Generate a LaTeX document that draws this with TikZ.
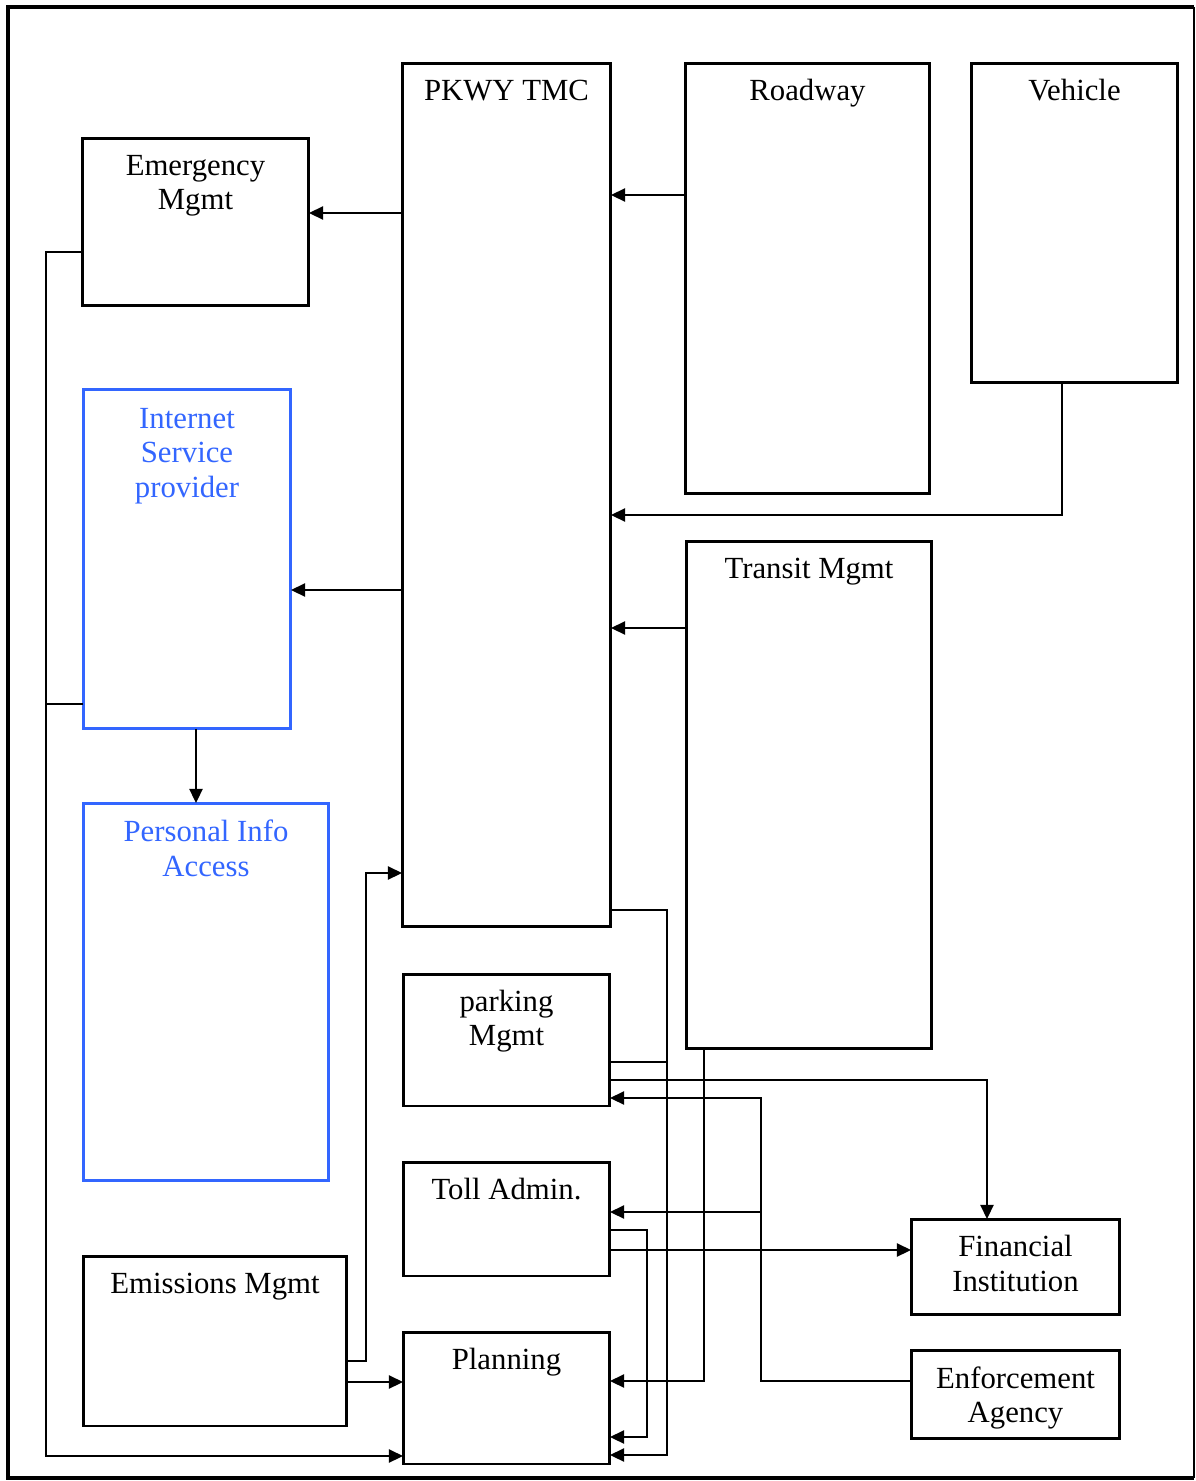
\documentclass[tikz,border=0pt]{standalone}
\usepackage{fontspec}
\setmainfont{Liberation Serif}
\usetikzlibrary{arrows.meta}
\definecolor{webblue}{RGB}{51,102,255}
\begin{document}
\begin{tikzpicture}[x=0.02cm,y=-0.02cm,
  box/.style={draw,line width=1.7pt,inner sep=0pt,outer sep=0pt,fill=white},
  bluebox/.style={box,draw=webblue},
  lbl/.style={anchor=north,inner sep=0pt,align=center,
    font=\fontsize{17.5}{19.8}\selectfont,execute at begin node=\strut},
  bluelbl/.style={lbl,text=webblue},
  arr/.style={line width=0.85pt,-{Triangle[length=8pt,width=7.5pt]}},
  wire/.style={line width=0.85pt}]
\useasboundingbox (0,0) rectangle (1196,1481);
% outer frame
\draw[line width=2.3pt] (1194,7) -- (8,7) -- (8,1478) -- (1194,1478);
\draw[line width=0.9pt] (1194,7) -- (1194,1478);

% boxes
\node[box,minimum width=4.54cm,minimum height=3.36cm]  (em)      at (195.5,222) {};
\node[box,minimum width=4.18cm,minimum height=17.28cm] (tmc)     at (506.5,495) {};
\node[box,minimum width=4.90cm,minimum height=8.62cm]  (road)    at (807.5,278.5) {};
\node[box,minimum width=4.14cm,minimum height=6.40cm]  (veh)     at (1074.5,223) {};
\node[bluebox,minimum width=4.16cm,minimum height=6.80cm] (isp)  at (187,559) {};
\node[bluebox,minimum width=4.92cm,minimum height=7.56cm] (pia)  at (206,992) {};
\node[box,minimum width=4.92cm,minimum height=10.16cm] (transit) at (809,795) {};
\node[box,minimum width=4.14cm,minimum height=2.64cm]  (park)    at (506.5,1040) {};
\node[box,minimum width=4.14cm,minimum height=2.28cm]  (toll)    at (506.5,1219) {};
\node[box,minimum width=4.14cm,minimum height=2.64cm]  (plan)    at (506.5,1398) {};
\node[box,minimum width=5.28cm,minimum height=3.40cm]  (emis)    at (215,1341) {};
\node[box,minimum width=4.18cm,minimum height=1.90cm]  (fin)     at (1015.5,1266.5) {};
\node[box,minimum width=4.18cm,minimum height=1.76cm]  (enf)     at (1015.5,1394) {};

% labels, set near the top of each box
\node[lbl] (emL)   at ([yshift=-0.33cm]em.north)      {Emergency\\Mgmt};
\node[lbl] (tmcL)  at ([yshift=-0.25cm]tmc.north)     {PKWY TMC};
\node[lbl] (roadL) at ([yshift=-0.25cm]road.north)    {Roadway};
\node[lbl] (vehL)  at ([yshift=-0.25cm]veh.north)     {Vehicle};
\node[bluelbl] (ispL) at ([yshift=-0.37cm]isp.north)  {Internet\\Service\\provider};
\node[bluelbl] (piaL) at ([yshift=-0.33cm]pia.north)  {Personal Info\\Access};
\node[lbl] (trL)   at ([yshift=-0.25cm]transit.north) {Transit Mgmt};
\node[lbl] (parkL) at ([yshift=-0.31cm]park.north)    {parking\\Mgmt};
\node[lbl] (tollL) at ([yshift=-0.25cm]toll.north)    {Toll Admin.};
\node[lbl] (planL) at ([yshift=-0.25cm]plan.north)    {Planning};
\node[lbl] (emisL) at ([yshift=-0.25cm]emis.north)    {Emissions Mgmt};
\node[lbl] (finL)  at ([yshift=-0.32cm]fin.north)     {Financial\\Institution};
\node[lbl] (enfL)  at ([yshift=-0.32cm]enf.north)     {Enforcement\\Agency};

% connectors
\coordinate (lb) at (46,1456);
\draw[arr] (tmc.west |- 0,213) -- (em.east |- 0,213);
\draw[arr] (road.west |- 0,195) -- (tmc.east |- 0,195);
\draw[arr] (veh.south -| 1062,0) |- (tmc.east |- 0,515);
\draw[arr] (transit.west |- 0,628) -- (tmc.east |- 0,628);
\draw[arr] (tmc.west |- 0,590) -- (isp.east |- 0,590);
\draw[arr] (isp.south -| 196,0) -- (pia.north -| 196,0);
\draw[arr] (em.west |- 0,252) -| (lb) -- (plan.west |- lb);
\draw[wire] (isp.west |- 0,704) -- (lb |- 0,704);
\draw[arr] (emis.east |- 0,1361) -- (366,1361) |- (tmc.west |- 0,873);
\draw[arr] (emis.east |- 0,1382) -- (plan.west |- 0,1382);
\draw[arr] (tmc.east |- 0,910) -- (667,910) |- (plan.east |- 0,1455);
\draw[wire] (park.east |- 0,1062) -- (667,1062);
\draw[arr] (park.east |- 0,1080) -| (fin.north -| 987,0);
\draw[arr] (enf.west |- 0,1381) -- (761,1381) |- (park.east |- 0,1098);
\draw[arr] (761,1212) -- (toll.east |- 0,1212);
\draw[arr] (toll.east |- 0,1230) -- (647,1230) |- (plan.east |- 0,1437);
\draw[arr] (toll.east |- 0,1250) -- (fin.west |- 0,1250);
\draw[arr] (transit.south -| 704,0) |- (plan.east |- 0,1381);
\end{tikzpicture}
\end{document}
